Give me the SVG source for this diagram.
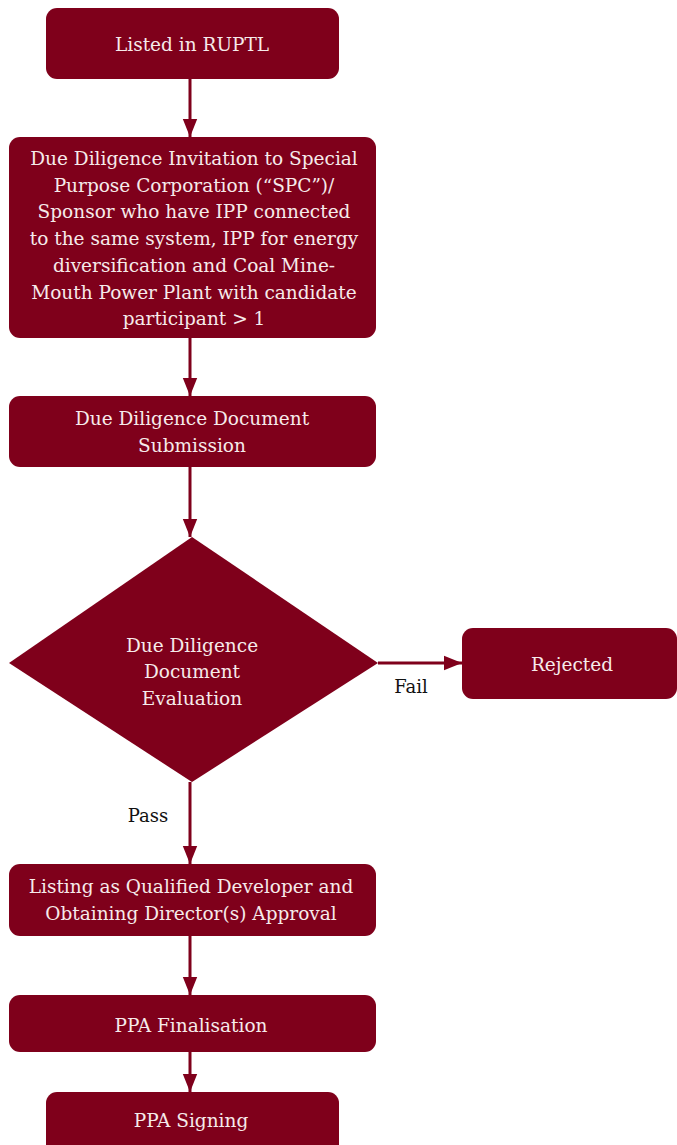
<svg xmlns="http://www.w3.org/2000/svg" width="677" height="1145" viewBox="0 0 677 1145">
<style>
.n{fill:#7f001b}
.t{fill:#f6eaea;font-family:"DejaVu Serif","Liberation Serif",serif;font-size:18.5px;text-anchor:middle}
.l{fill:#111;font-family:"DejaVu Serif","Liberation Serif",serif;font-size:18px;text-anchor:middle}
.c{stroke:#7f001b;stroke-width:3;fill:none}
</style>
<defs>
<marker id="ah" markerUnits="userSpaceOnUse" markerWidth="18" markerHeight="22" refX="20" refY="8" orient="auto" viewBox="0 0 20 16">
<path d="M0,0 L20,8 L0,16 Z" fill="#7f001b"/>
</marker>
</defs>
<rect width="677" height="1145" fill="#fff"/>
<g id="connectors">
<line class="c" x1="190" y1="79" x2="190" y2="137" marker-end="url(#ah)"/>
<line class="c" x1="190" y1="338" x2="190" y2="396" marker-end="url(#ah)"/>
<line class="c" x1="190" y1="467" x2="190" y2="537" marker-end="url(#ah)"/>
<line class="c" x1="378" y1="663" x2="462" y2="663" marker-end="url(#ah)"/>
<text class="l" x="411" y="693">Fail</text>
<line class="c" x1="190" y1="782" x2="190" y2="864" marker-end="url(#ah)"/>
<text class="l" x="148" y="822">Pass</text>
<line class="c" x1="190" y1="936" x2="190" y2="995" marker-end="url(#ah)"/>
<line class="c" x1="190" y1="1052" x2="190" y2="1092" marker-end="url(#ah)"/>
</g>
<g id="n1">
<rect class="n" x="46" y="8" width="293" height="71" rx="11"/>
<text class="t" x="192" y="51">Listed in RUPTL</text>
</g>
<g id="n2">
<rect class="n" x="9" y="137" width="367" height="201" rx="11"/>
<text class="t" x="194" y="165">Due Diligence Invitation to Special</text>
<text class="t" x="194" y="192">Purpose Corporation (“SPC”)/</text>
<text class="t" x="194" y="218">Sponsor who have IPP connected</text>
<text class="t" x="194" y="245">to the same system, IPP for energy</text>
<text class="t" x="194" y="272">diversification and Coal Mine-</text>
<text class="t" x="194" y="299">Mouth Power Plant with candidate</text>
<text class="t" x="194" y="325">participant &gt; 1</text>
</g>
<g id="n3">
<rect class="n" x="9" y="396" width="367" height="71" rx="11"/>
<text class="t" x="192" y="425">Due Diligence Document</text>
<text class="t" x="192" y="452">Submission</text>
</g>
<g id="n4">
<polygon class="n" points="192,537 378,663 192,782 9,663"/>
<text class="t" x="192" y="652">Due Diligence</text>
<text class="t" x="192" y="678">Document</text>
<text class="t" x="192" y="705">Evaluation</text>
</g>
<g id="n5">
<rect class="n" x="462" y="628" width="215" height="71" rx="11"/>
<text class="t" x="572" y="671">Rejected</text>
</g>
<g id="n6">
<rect class="n" x="9" y="864" width="367" height="72" rx="11"/>
<text class="t" x="191" y="893">Listing as Qualified Developer and</text>
<text class="t" x="191" y="920">Obtaining Director(s) Approval</text>
</g>
<g id="n7">
<rect class="n" x="9" y="995" width="367" height="57" rx="11"/>
<text class="t" x="191" y="1032">PPA Finalisation</text>
</g>
<g id="n8">
<rect class="n" x="46" y="1092" width="293" height="64" rx="11"/>
<text class="t" x="191" y="1127">PPA Signing</text>
</g>
</svg>
